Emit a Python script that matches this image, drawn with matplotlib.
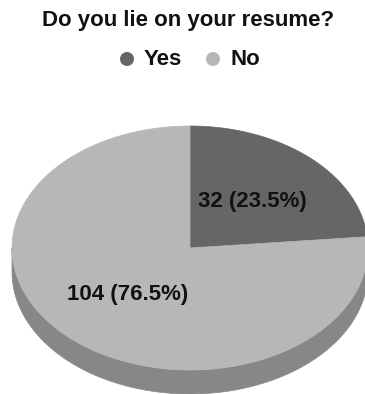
import numpy as np
import matplotlib
matplotlib.use("Agg")
import matplotlib.pyplot as plt
from matplotlib.patches import Polygon, Circle

# Survey answers
categories = ["Yes", "No"]
counts = [32, 104]
title = "Do you lie on your resume?"

top_colors = ["#666666", "#b7b7b7"]
side_colors = ["#4a4a4a", "#878787"]

W, H = 365, 394
fig = plt.figure(figsize=(W / 100, H / 100), dpi=100)
ax = fig.add_axes([0, 0, 1, 1])
ax.set_xlim(0, W)
ax.set_ylim(H, 0)
ax.axis("off")

font = dict(family=["Liberation Sans", "DejaVu Sans"], fontweight="bold")

# Pie geometry (pixel space, y downwards)
cx, cy, rx, ry, depth = 190.0, 248.0, 178.0, 122.0, 24.0


def edge(theta_deg, dy=0.0):
    t = np.radians(theta_deg)
    return cx + rx * np.cos(t), cy - ry * np.sin(t) + dy


total = float(sum(counts))
fracs = [c / total for c in counts]
starts, ends = [], []
a = 90.0
for f in fracs:
    starts.append(a)
    a -= 360.0 * f
    ends.append(a)

# Side walls: only the part of each slice facing the viewer (lower half)
for s, e, sc in zip(starts, ends, side_colors):
    lo, hi = e, s
    for off in (0.0, -360.0, 360.0):
        a0 = max(lo + off, -180.0)
        a1 = min(hi + off, 0.0)
        if a1 > a0:
            th = np.linspace(a0, a1, 120)
            top = [edge(t) for t in th]
            bot = [edge(t, depth) for t in th[::-1]]
            ax.add_patch(Polygon(top + bot, closed=True, facecolor=sc,
                                 edgecolor=sc, linewidth=0.5))

# Top faces
for s, e, tc in zip(starts, ends, top_colors):
    th = np.linspace(s, e, 240)
    pts = [(cx, cy)] + [edge(t) for t in th]
    ax.add_patch(Polygon(pts, closed=True, facecolor=tc, edgecolor=tc,
                         linewidth=0.5))

# Slice labels
for s, e, c, f in zip(starts, ends, counts, fracs):
    mid = np.radians((s + e) / 2.0)
    lx = cx + 0.52 * rx * np.cos(mid)
    ly = cy - 0.52 * ry * np.sin(mid)
    ax.text(lx, ly, f"{c} ({f * 100:.1f}%)", ha="center", va="center",
            fontsize=16, color="#111111", **font)

# Title
ax.text(W / 2 + 6, 20, title, ha="center", va="center", fontsize=16,
        color="#111111", **font)

# Legend
legend_y = 59
legend_x = [127, 213]
for x, tc, name in zip(legend_x, top_colors, categories):
    ax.add_patch(Circle((x, legend_y), 7, facecolor=tc, edgecolor="none"))
    ax.text(x + 17, legend_y, name, ha="left", va="center", fontsize=16,
            color="#111111", **font)

fig.savefig("out.png", dpi=100, facecolor="white")
